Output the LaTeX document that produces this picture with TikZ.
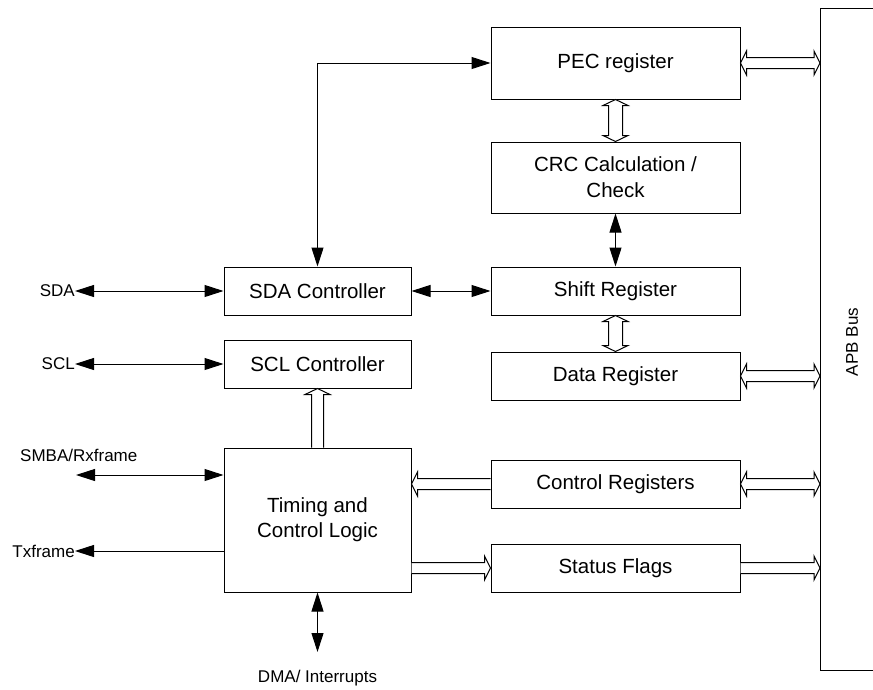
\documentclass[tikz,border=0pt]{standalone}
\usepackage{fontspec}
\setmainfont{Liberation Sans}
\usetikzlibrary{arrows.meta,calc}
\tikzset{
  blk/.style={draw, line width=1pt, minimum width=249pt, font=\fontsize{20.5}{26}\selectfont, align=center, inner sep=0pt},
  lblk/.style={blk, minimum width=187pt},
  lab/.style={font=\fontsize{17}{20}\selectfont, inner sep=0pt},
  conn/.style={line width=1pt},
  hollow/.style={draw, fill=white, line width=1pt, line join=miter},
  >={Triangle[length=19pt,width=12pt]}
}
\newcommand\hollowDH[2]{\path[hollow] let \p1=(#1), \p2=(#2) in
 (\x1,\y1) -- (\x1+6pt,\y1+12pt) -- (\x1+6pt,\y1+5.5pt) -- (\x2-6pt,\y1+5.5pt) -- (\x2-6pt,\y1+12pt) -- (\x2,\y1) -- (\x2-6pt,\y1-12pt) -- (\x2-6pt,\y1-5.5pt) -- (\x1+6pt,\y1-5.5pt) -- (\x1+6pt,\y1-12pt) -- cycle;}
\newcommand\hollowRH[2]{\path[hollow] let \p1=(#1), \p2=(#2) in
 (\x1,\y1+5.5pt) -- (\x2-6pt,\y1+5.5pt) -- (\x2-6pt,\y1+12pt) -- (\x2,\y1) -- (\x2-6pt,\y1-12pt) -- (\x2-6pt,\y1-5.5pt) -- (\x1,\y1-5.5pt);}
\newcommand\hollowLH[2]{\path[hollow] let \p1=(#1), \p2=(#2) in
 (\x2,\y1+5.5pt) -- (\x1+6pt,\y1+5.5pt) -- (\x1+6pt,\y1+12pt) -- (\x1,\y1) -- (\x1+6pt,\y1-12pt) -- (\x1+6pt,\y1-5.5pt) -- (\x2,\y1-5.5pt);}
\newcommand\hollowDV[2]{\path[hollow] let \p1=(#1), \p2=(#2) in
 (\x1,\y1) -- (\x1+12.5pt,\y1-6pt) -- (\x1+7pt,\y1-6pt) -- (\x1+7pt,\y2+6pt) -- (\x1+12.5pt,\y2+6pt) -- (\x1,\y2) -- (\x1-12.5pt,\y2+6pt) -- (\x1-7pt,\y2+6pt) -- (\x1-7pt,\y1-6pt) -- (\x1-12.5pt,\y1-6pt) -- cycle;}
\newcommand\hollowUV[2]{\path[hollow] let \p1=(#1), \p2=(#2) in
 (\x1+6pt,\y2) -- (\x1+6pt,\y1-6pt) -- (\x1+12.5pt,\y1-6pt) -- (\x1,\y1) -- (\x1-12.5pt,\y1-6pt) -- (\x1-6pt,\y1-6pt) -- (\x1-6pt,\y2);}
\begin{document}
\begin{tikzpicture}[x=1pt,y=-1pt]
\useasboundingbox (0,0) rectangle (873,689);
% APB bus
\draw[line width=1pt] (873,8) -- (820,8) -- (820,670) -- (873,670);
\coordinate (apb) at (820,8);
\node[lab, rotate=90] (apbl) at (852,342) {APB Bus};
% right column
\node[blk, minimum height=72pt] (pec) at (615.5,63) {PEC register};
\node[blk, minimum height=71pt] (crc) at (615.5,177.5) {CRC Calculation /\\Check};
\node[blk, minimum height=48pt] (shift) at (615.5,291) {Shift Register};
\node[blk, minimum height=48pt] (data) at (615.5,376) {Data Register};
\node[blk, minimum height=48pt] (ctrl) at (615.5,484) {Control Registers};
\node[blk, minimum height=48pt] (stat) at (615.5,568) {Status Flags};
% left column
\node[lblk, minimum height=48pt] (sda) at (317.5,291) {SDA Controller};
\node[lblk, minimum height=48pt] (scl) at (317.5,364) {SCL Controller};
\node[lblk, minimum height=144pt, font=\fontsize{20.5}{25}\selectfont] (tim) at (317.5,520) {Timing and\\Control Logic};
% outer labels
\node[lab, anchor=east] (lsda) at (75,291) {SDA};
\node[lab, anchor=east] (lscl) at (75,364) {SCL};
\node[lab, anchor=west] (lsmba) at (20,455) {SMBA/Rxframe};
\coordinate (smbaend) at (76,475);
\node[lab, anchor=east] (ltx) at (75,551) {Txframe};
\node[lab] (ldma) at (317.5,678) {DMA/ Interrupts};
\coordinate (dmaend) at (317.5,652);
% solid connectors
\draw[conn,<->] (lsda.east) -- (sda.west);
\draw[conn,<->] (lscl.east) -- (scl.west);
\draw[conn,<->] (smbaend) -- (smbaend -| tim.west);
\draw[conn,->] (ltx.east -| tim.west) -- (ltx.east);
\draw[conn,<->] (tim.south) -- (dmaend);
\draw[conn,<->] (sda.north) |- (pec.west);
\draw[conn,<->] (sda.east) -- (shift.west);
\draw[conn,<->] (crc.south) -- (shift.north);
% hollow connectors
\hollowDV{pec.south}{crc.north}
\hollowDV{shift.south}{data.north}
\hollowUV{scl.south}{tim.north}
\hollowDH{pec.east}{pec.east -| apb}
\hollowDH{data.east}{data.east -| apb}
\hollowDH{ctrl.east}{ctrl.east -| apb}
\hollowRH{stat.east}{stat.east -| apb}
\hollowLH{ctrl.west -| tim.east}{ctrl.west}
\hollowRH{stat.west -| tim.east}{stat.west}
\end{tikzpicture}
\end{document}
